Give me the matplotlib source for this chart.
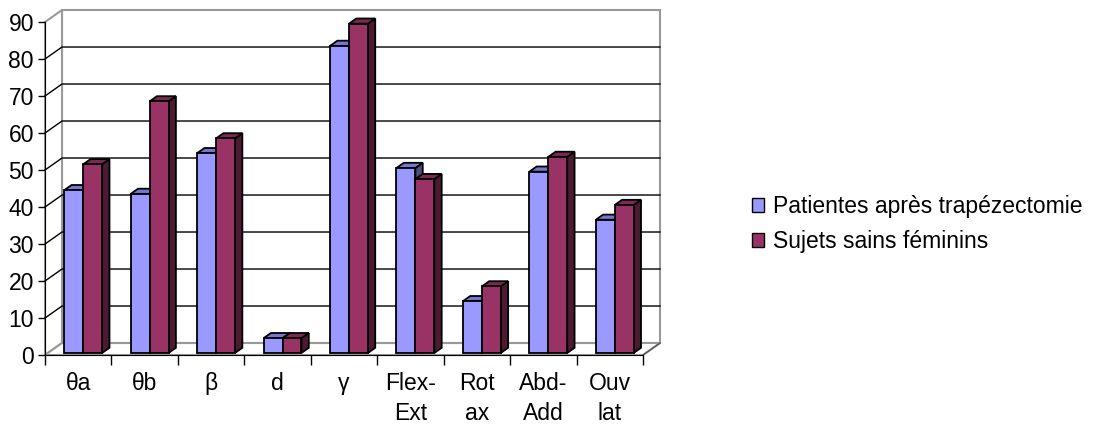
import numpy as np
import matplotlib
matplotlib.use("Agg")
import matplotlib.pyplot as plt
from matplotlib.patches import Polygon, Patch

plt.rcParams['font.family'] = ['Liberation Sans', 'DejaVu Sans']

# data
categories = ["θa", "θb", "β", "d", "γ", "Flex-\nExt", "Rot\nax", "Abd-\nAdd", "Ouv\nlat"]
patientes = [44, 43, 54, 4, 83, 50, 14, 49, 36]
sujets = [51, 68, 58, 4, 89, 47, 18, 53, 40]
series_names = ["Patientes après trapézectomie", "Sujets sains féminins"]

front_cols = ["#9999FF", "#993366"]
top_cols = ["#7777D0", "#7A2952"]
side_cols = ["#4D4D80", "#4D1A33"]

# fake 3d depth (data units)
DX, DY = 0.256, 3.24
f1, f2 = 0.17, 0.6
bw = 0.285
fs = 16.5

fig = plt.figure(figsize=(11.1, 4.3), dpi=100)
ax = fig.add_axes([45/1110, 1-355/430, 598/1110, 333/430])
ax.set_xlim(0, 9)
ax.set_ylim(0, 90)
ax.patch.set_visible(False)

n = len(categories)
wall = dict(facecolor="white", edgecolor="#999999", lw=1.5, clip_on=False, zorder=0)
ax.add_patch(Polygon([(DX, DY), (n+DX, DY), (n+DX, 90+DY), (DX, 90+DY)], **wall))
ax.add_patch(Polygon([(0, 0), (DX, DY), (DX, 90+DY), (0, 90)], **wall))
ax.add_patch(Polygon([(0, 0), (n, 0), (n+DX, DY), (DX, DY)], **wall))
ax.plot([n, n+DX], [0, DY], color="#555555", lw=1, clip_on=False, zorder=1)

# gridlines on side and back walls
for v in range(10, 90, 10):
    ax.plot([0, DX, n+DX], [v, v+DY, v+DY], color="black", lw=1, clip_on=False, zorder=1)

# bars: side, top, then front face
dd_x = (f2-f1)*DX
dd_y = (f2-f1)*DY
base = f1*DY
for i in range(n):
    for k, vals in enumerate([patientes, sujets]):
        h = vals[i]
        x0 = i + 0.29 + k*bw
        x1 = x0 + bw
        top = base + h
        ax.add_patch(Polygon([(x1, base), (x1+dd_x, base+dd_y), (x1+dd_x, top+dd_y), (x1, top)],
                             facecolor=side_cols[k], edgecolor="black", lw=1.3, clip_on=False, zorder=3))
        ax.add_patch(Polygon([(x0, top), (x1, top), (x1+dd_x, top+dd_y), (x0+dd_x, top+dd_y)],
                             facecolor=top_cols[k], edgecolor="black", lw=1.3, clip_on=False, zorder=3))
        ax.bar(x0, h, bw, bottom=base, align='edge', color=front_cols[k],
               edgecolor="black", lw=1.3, clip_on=False, zorder=3)

for s in ["top", "right"]:
    ax.spines[s].set_visible(False)
ax.spines["left"].set_zorder(2)
ax.spines["bottom"].set_zorder(2)

ax.set_yticks(range(0, 100, 10))
ax.tick_params(axis="y", length=5, width=1, pad=3, labelsize=fs)
ax.set_xticks(range(0, n+1))
ax.set_xticklabels([])
ax.tick_params(axis="x", which="major", length=7, width=1)
ax.set_xticks(np.arange(n)+0.5, minor=True)
ax.set_xticklabels(categories, minor=True)
ax.tick_params(axis="x", which="minor", length=0, pad=12, labelsize=fs)
for lbl in ax.get_xticklabels(minor=True):
    lbl.set_linespacing(1.42)
    lbl.set_verticalalignment("top")

handles = [Patch(facecolor=front_cols[k], edgecolor="black", lw=1) for k in range(2)]
fig.legend(handles, series_names, loc="center left", bbox_to_anchor=(731/1110, 1-224/430),
           frameon=False, fontsize=fs, handlelength=0.55, handleheight=0.55,
           handletextpad=0.4, labelspacing=0.5)

fig.savefig("out.png", dpi=100)
